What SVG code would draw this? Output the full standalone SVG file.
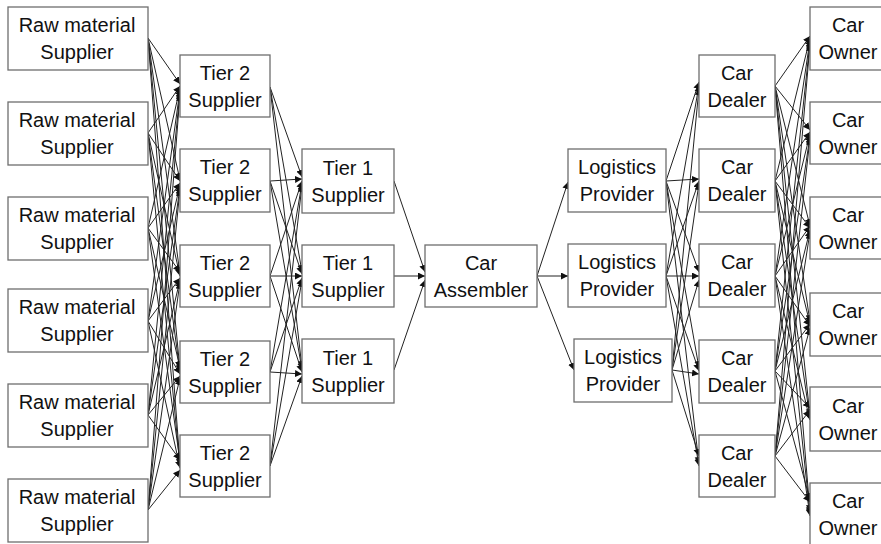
<svg xmlns="http://www.w3.org/2000/svg" width="881" height="544" viewBox="0 0 881 544">
  <style>
    .box { fill: #ffffff; stroke: #6e6e6e; stroke-width: 1.3; }
    .lbl { font-family: "Liberation Sans", Arial, sans-serif; font-size: 20px; fill: #111111; text-anchor: middle; }
    .link { stroke: #222222; stroke-width: 1; fill: none; marker-end: url(#arrow); }
  </style>
  <defs>
    <marker id="arrow" markerUnits="userSpaceOnUse" markerWidth="8" markerHeight="8" refX="7" refY="3.5" orient="auto">
      <path d="M0,0 L7,3.5 L0,7 z" fill="#111111"/>
    </marker>
  </defs>
  <rect width="881" height="544" fill="#ffffff"/>

  <!-- connectors -->
  <g id="connectors">
    <!-- raw material suppliers to tier 2 suppliers -->
    <line class="link" x1="148" y1="38" x2="180" y2="84"/>
    <line class="link" x1="148" y1="38" x2="180" y2="180"/>
    <line class="link" x1="148" y1="38" x2="180" y2="274"/>
    <line class="link" x1="148" y1="38" x2="180" y2="370"/>
    <line class="link" x1="148" y1="38" x2="180" y2="464"/>
    <line class="link" x1="148" y1="133" x2="180" y2="86"/>
    <line class="link" x1="148" y1="133" x2="180" y2="181"/>
    <line class="link" x1="148" y1="133" x2="180" y2="276"/>
    <line class="link" x1="148" y1="133" x2="180" y2="372"/>
    <line class="link" x1="148" y1="133" x2="180" y2="466"/>
    <line class="link" x1="148" y1="228" x2="180" y2="88"/>
    <line class="link" x1="148" y1="228" x2="180" y2="183"/>
    <line class="link" x1="148" y1="228" x2="180" y2="272"/>
    <line class="link" x1="148" y1="228" x2="180" y2="368"/>
    <line class="link" x1="148" y1="228" x2="180" y2="462"/>
    <line class="link" x1="148" y1="321" x2="180" y2="90"/>
    <line class="link" x1="148" y1="321" x2="180" y2="185"/>
    <line class="link" x1="148" y1="321" x2="180" y2="278"/>
    <line class="link" x1="148" y1="321" x2="180" y2="374"/>
    <line class="link" x1="148" y1="321" x2="180" y2="468"/>
    <line class="link" x1="148" y1="415" x2="180" y2="92"/>
    <line class="link" x1="148" y1="415" x2="180" y2="187"/>
    <line class="link" x1="148" y1="415" x2="180" y2="280"/>
    <line class="link" x1="148" y1="415" x2="180" y2="376"/>
    <line class="link" x1="148" y1="415" x2="180" y2="460"/>
    <line class="link" x1="148" y1="510" x2="180" y2="94"/>
    <line class="link" x1="148" y1="510" x2="180" y2="189"/>
    <line class="link" x1="148" y1="510" x2="180" y2="282"/>
    <line class="link" x1="148" y1="510" x2="180" y2="378"/>
    <line class="link" x1="148" y1="510" x2="180" y2="470"/>

    <!-- tier 2 suppliers to tier 1 suppliers -->
    <line class="link" x1="270" y1="87" x2="302" y2="177"/>
    <line class="link" x1="270" y1="87" x2="302" y2="272"/>
    <line class="link" x1="270" y1="87" x2="302" y2="368"/>
    <line class="link" x1="270" y1="181" x2="302" y2="179"/>
    <line class="link" x1="270" y1="181" x2="302" y2="274"/>
    <line class="link" x1="270" y1="181" x2="302" y2="370"/>
    <line class="link" x1="270" y1="276" x2="302" y2="181"/>
    <line class="link" x1="270" y1="276" x2="302" y2="276"/>
    <line class="link" x1="270" y1="276" x2="302" y2="372"/>
    <line class="link" x1="270" y1="372" x2="302" y2="183"/>
    <line class="link" x1="270" y1="372" x2="302" y2="278"/>
    <line class="link" x1="270" y1="372" x2="302" y2="374"/>
    <line class="link" x1="270" y1="466" x2="302" y2="185"/>
    <line class="link" x1="270" y1="466" x2="302" y2="280"/>
    <line class="link" x1="270" y1="466" x2="302" y2="376"/>

    <!-- tier 1 suppliers to car assembler -->
    <line class="link" x1="394" y1="181" x2="425" y2="272"/>
    <line class="link" x1="394" y1="276" x2="425" y2="276"/>
    <line class="link" x1="394" y1="370" x2="425" y2="280"/>

    <!-- car assembler to logistics providers -->
    <line class="link" x1="537" y1="276" x2="568" y2="182"/>
    <line class="link" x1="537" y1="276" x2="568" y2="276"/>
    <line class="link" x1="537" y1="276" x2="574" y2="370"/>

    <!-- logistics providers to car dealers -->
    <line class="link" x1="666" y1="181" x2="699" y2="82"/>
    <line class="link" x1="666" y1="181" x2="699" y2="179"/>
    <line class="link" x1="666" y1="181" x2="699" y2="272"/>
    <line class="link" x1="666" y1="181" x2="699" y2="368"/>
    <line class="link" x1="666" y1="181" x2="699" y2="464"/>
    <line class="link" x1="666" y1="276" x2="699" y2="85"/>
    <line class="link" x1="666" y1="276" x2="699" y2="181"/>
    <line class="link" x1="666" y1="276" x2="699" y2="276"/>
    <line class="link" x1="666" y1="276" x2="699" y2="371"/>
    <line class="link" x1="666" y1="276" x2="699" y2="466"/>
    <line class="link" x1="672" y1="370" x2="699" y2="88"/>
    <line class="link" x1="672" y1="370" x2="699" y2="183"/>
    <line class="link" x1="672" y1="370" x2="699" y2="280"/>
    <line class="link" x1="672" y1="370" x2="699" y2="374"/>
    <line class="link" x1="672" y1="370" x2="699" y2="456"/>

    <!-- car dealers to car owners -->
    <line class="link" x1="775" y1="86" x2="810" y2="36"/>
    <line class="link" x1="775" y1="86" x2="810" y2="130"/>
    <line class="link" x1="775" y1="86" x2="810" y2="226"/>
    <line class="link" x1="775" y1="86" x2="810" y2="322"/>
    <line class="link" x1="775" y1="86" x2="810" y2="416"/>
    <line class="link" x1="775" y1="86" x2="810" y2="512"/>
    <line class="link" x1="775" y1="181" x2="810" y2="38"/>
    <line class="link" x1="775" y1="181" x2="810" y2="132"/>
    <line class="link" x1="775" y1="181" x2="810" y2="228"/>
    <line class="link" x1="775" y1="181" x2="810" y2="324"/>
    <line class="link" x1="775" y1="181" x2="810" y2="418"/>
    <line class="link" x1="775" y1="181" x2="810" y2="514"/>
    <line class="link" x1="775" y1="276" x2="810" y2="40"/>
    <line class="link" x1="775" y1="276" x2="810" y2="134"/>
    <line class="link" x1="775" y1="276" x2="810" y2="226"/>
    <line class="link" x1="775" y1="276" x2="810" y2="326"/>
    <line class="link" x1="775" y1="276" x2="810" y2="420"/>
    <line class="link" x1="775" y1="276" x2="810" y2="516"/>
    <line class="link" x1="775" y1="371" x2="810" y2="42"/>
    <line class="link" x1="775" y1="371" x2="810" y2="136"/>
    <line class="link" x1="775" y1="371" x2="810" y2="230"/>
    <line class="link" x1="775" y1="371" x2="810" y2="324"/>
    <line class="link" x1="775" y1="371" x2="810" y2="408"/>
    <line class="link" x1="775" y1="371" x2="810" y2="500"/>
    <line class="link" x1="775" y1="456" x2="810" y2="44"/>
    <line class="link" x1="775" y1="456" x2="810" y2="138"/>
    <line class="link" x1="775" y1="456" x2="810" y2="232"/>
    <line class="link" x1="775" y1="456" x2="810" y2="328"/>
    <line class="link" x1="775" y1="456" x2="810" y2="410"/>
    <line class="link" x1="775" y1="456" x2="810" y2="502"/>
  </g>

  <!-- raw material suppliers -->
  <g id="raw1"><rect class="box" x="8" y="7" width="140" height="63"/><text class="lbl" x="77" y="32">Raw material</text><text class="lbl" x="77" y="59">Supplier</text></g>
  <g id="raw2"><rect class="box" x="8" y="102" width="140" height="63"/><text class="lbl" x="77" y="127">Raw material</text><text class="lbl" x="77" y="154">Supplier</text></g>
  <g id="raw3"><rect class="box" x="8" y="197" width="140" height="63"/><text class="lbl" x="77" y="222">Raw material</text><text class="lbl" x="77" y="249">Supplier</text></g>
  <g id="raw4"><rect class="box" x="8" y="289" width="140" height="63"/><text class="lbl" x="77" y="314">Raw material</text><text class="lbl" x="77" y="341">Supplier</text></g>
  <g id="raw5"><rect class="box" x="8" y="384" width="140" height="63"/><text class="lbl" x="77" y="409">Raw material</text><text class="lbl" x="77" y="436">Supplier</text></g>
  <g id="raw6"><rect class="box" x="8" y="479" width="140" height="63"/><text class="lbl" x="77" y="504">Raw material</text><text class="lbl" x="77" y="531">Supplier</text></g>

  <!-- tier 2 suppliers -->
  <g id="tier2a"><rect class="box" x="180" y="55" width="90" height="62"/><text class="lbl" x="225" y="80">Tier 2</text><text class="lbl" x="225" y="107">Supplier</text></g>
  <g id="tier2b"><rect class="box" x="180" y="149" width="90" height="63"/><text class="lbl" x="225" y="174">Tier 2</text><text class="lbl" x="225" y="201">Supplier</text></g>
  <g id="tier2c"><rect class="box" x="180" y="245" width="90" height="62"/><text class="lbl" x="225" y="270">Tier 2</text><text class="lbl" x="225" y="297">Supplier</text></g>
  <g id="tier2d"><rect class="box" x="180" y="341" width="90" height="62"/><text class="lbl" x="225" y="366">Tier 2</text><text class="lbl" x="225" y="393">Supplier</text></g>
  <g id="tier2e"><rect class="box" x="180" y="435" width="90" height="62"/><text class="lbl" x="225" y="460">Tier 2</text><text class="lbl" x="225" y="487">Supplier</text></g>

  <!-- tier 1 suppliers -->
  <g id="tier1a"><rect class="box" x="302" y="149" width="92" height="64"/><text class="lbl" x="348" y="175">Tier 1</text><text class="lbl" x="348" y="202">Supplier</text></g>
  <g id="tier1b"><rect class="box" x="302" y="245" width="92" height="62"/><text class="lbl" x="348" y="270">Tier 1</text><text class="lbl" x="348" y="297">Supplier</text></g>
  <g id="tier1c"><rect class="box" x="302" y="339" width="92" height="64"/><text class="lbl" x="348" y="365">Tier 1</text><text class="lbl" x="348" y="392">Supplier</text></g>

  <!-- car assembler -->
  <g id="assembler"><rect class="box" x="425" y="245" width="112" height="62"/><text class="lbl" x="481" y="270">Car</text><text class="lbl" x="481" y="297">Assembler</text></g>

  <!-- logistics providers -->
  <g id="logistics1"><rect class="box" x="568" y="149" width="98" height="63"/><text class="lbl" x="617" y="174">Logistics</text><text class="lbl" x="617" y="201">Provider</text></g>
  <g id="logistics2"><rect class="box" x="568" y="244" width="98" height="63"/><text class="lbl" x="617" y="269">Logistics</text><text class="lbl" x="617" y="296">Provider</text></g>
  <g id="logistics3"><rect class="box" x="574" y="339" width="98" height="63"/><text class="lbl" x="623" y="364">Logistics</text><text class="lbl" x="623" y="391">Provider</text></g>

  <!-- car dealers -->
  <g id="dealer1"><rect class="box" x="699" y="55" width="76" height="62"/><text class="lbl" x="737" y="80">Car</text><text class="lbl" x="737" y="107">Dealer</text></g>
  <g id="dealer2"><rect class="box" x="699" y="149" width="76" height="63"/><text class="lbl" x="737" y="174">Car</text><text class="lbl" x="737" y="201">Dealer</text></g>
  <g id="dealer3"><rect class="box" x="699" y="244" width="76" height="63"/><text class="lbl" x="737" y="269">Car</text><text class="lbl" x="737" y="296">Dealer</text></g>
  <g id="dealer4"><rect class="box" x="699" y="340" width="76" height="63"/><text class="lbl" x="737" y="365">Car</text><text class="lbl" x="737" y="392">Dealer</text></g>
  <g id="dealer5"><rect class="box" x="699" y="435" width="76" height="62"/><text class="lbl" x="737" y="460">Car</text><text class="lbl" x="737" y="487">Dealer</text></g>

  <!-- car owners -->
  <g id="owner1"><rect class="box" x="810" y="7" width="76" height="63"/><text class="lbl" x="848" y="32">Car</text><text class="lbl" x="848" y="59">Owner</text></g>
  <g id="owner2"><rect class="box" x="810" y="102" width="76" height="62"/><text class="lbl" x="848" y="127">Car</text><text class="lbl" x="848" y="154">Owner</text></g>
  <g id="owner3"><rect class="box" x="810" y="197" width="76" height="62"/><text class="lbl" x="848" y="222">Car</text><text class="lbl" x="848" y="249">Owner</text></g>
  <g id="owner4"><rect class="box" x="810" y="293" width="76" height="63"/><text class="lbl" x="848" y="318">Car</text><text class="lbl" x="848" y="345">Owner</text></g>
  <g id="owner5"><rect class="box" x="810" y="387" width="76" height="64"/><text class="lbl" x="848" y="413">Car</text><text class="lbl" x="848" y="440">Owner</text></g>
  <g id="owner6"><rect class="box" x="810" y="483" width="76" height="63"/><text class="lbl" x="848" y="508">Car</text><text class="lbl" x="848" y="535">Owner</text></g>
</svg>
